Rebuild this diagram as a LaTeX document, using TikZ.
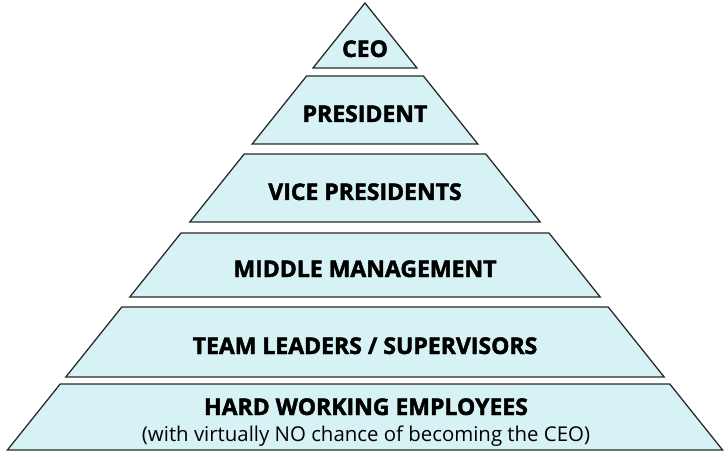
\documentclass[tikz,border=0pt]{standalone}
\usepackage{fontspec}
\setmainfont{Open Sans}[BoldFeatures={FakeBold=2}]
\definecolor{tierfill}{RGB}{214,242,244}
\definecolor{tierline}{RGB}{40,40,40}
\begin{document}
\begin{tikzpicture}[x=1pt,y=-1pt,
  tierbox/.style={fill=tierfill,draw=tierline,line width=1.3pt,line join=miter},
  lab/.style={font=\fontsize{23}{25}\selectfont\bfseries,inner sep=0pt,anchor=base},
  sublab/.style={font=\fontsize{20.4}{22}\selectfont,inner sep=0pt,anchor=base}]
\useasboundingbox (0,0) rectangle (728,457);
% tiers
\draw[tierbox] (365,3) -- (417,68) -- (313,68) -- cycle;
\draw[tierbox] (306.6,76) -- (423.4,76) -- (477.8,144) -- (252.2,144) -- cycle;
\draw[tierbox] (244.2,154) -- (485.8,154) -- (540.2,222) -- (189.8,222) -- cycle;
\draw[tierbox] (181,233) -- (549,233) -- (600.2,297) -- (129.8,297) -- cycle;
\draw[tierbox] (121.8,307) -- (608.2,307) -- (664.2,377) -- (65.8,377) -- cycle;
\draw[tierbox] (60.2,384) -- (669.8,384) -- (722.6,450) -- (7.4,450) -- cycle;
% labels
\node[lab] (ceo) at (365,57) {CEO};
\node[lab] (pres) at (365,122) {PRESIDENT};
\node[lab] (vp) at (365,200) {VICE PRESIDENTS};
\node[lab] (mid) at (365,277) {MIDDLE MANAGEMENT};
\node[lab] (team) at (365,354) {TEAM LEADERS / SUPERVISORS};
\node[lab] (hard) at (366,415) {HARD WORKING EMPLOYEES};
\node[sublab] (sub) at (366,441) {(with virtually NO chance of becoming the CEO)};
\end{tikzpicture}
\end{document}
